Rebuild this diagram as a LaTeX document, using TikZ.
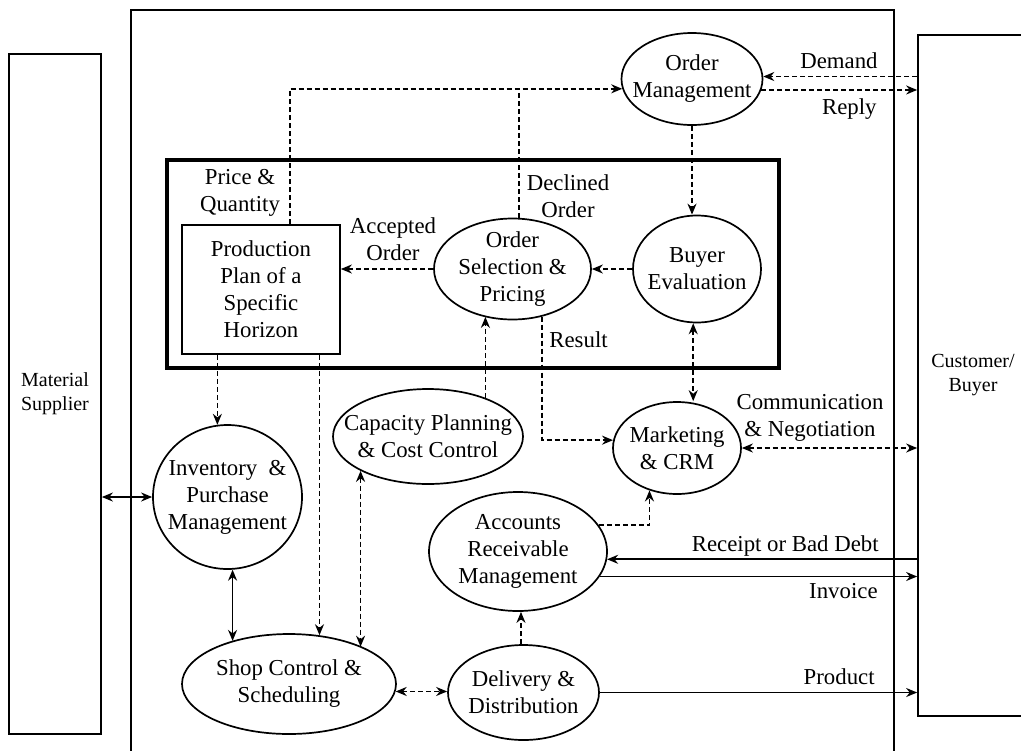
\documentclass[tikz,border=0pt]{standalone}
\usepackage{fontspec}
\setmainfont{Liberation Serif}
\usetikzlibrary{shapes.geometric,arrows.meta,calc}
\begin{document}
\begin{tikzpicture}[x=0.5pt,y=-0.5pt,
  >={Stealth[length=5.5pt,width=4.5pt]},
  lw/.style={line width=0.85pt},
  ell/.style={draw,ellipse,line width=0.85pt,inner sep=0pt},
  txt/.style={inner sep=0pt,align=center,font=\fontsize{11.4}{13.5}\selectfont},
  smalltxt/.style={inner sep=0pt,align=center,font=\fontsize{10}{12}\selectfont},
  dl/.style={line width=0.85pt,dash pattern=on 2.5pt off 1.5pt},
  da/.style={dl,->},
  db/.style={dl,<->},
  sa/.style={lw,->},
  sdb/.style={lw,<->}]
\useasboundingbox (0,0) rectangle (1021,750);

% frames
\draw[lw] (131,752) -- (131,10) -- (894,10) -- (894,752);
\draw[line width=1.7pt] (167,160) rectangle (779,368);

% side boxes
\node[draw,lw,smalltxt,minimum width=46pt,minimum height=340pt] (sup) at (55,394) {Material\\Supplier};
\node[draw,lw,smalltxt,minimum width=55pt,minimum height=340.5pt] (cust) at (973,375.5) {Customer/\\Buyer};

% production plan
\node[draw,lw,txt,minimum width=79pt,minimum height=64.5pt] (pp) at (261,289.5) {Production\\Plan of a\\Specific\\Horizon};

% ellipses
\node[ell,minimum width=70.5pt,minimum height=46pt] (om) at (692,79) {};
\node[txt] at (om) {Order\\Management};
\node[ell,minimum width=78.5pt,minimum height=50.5pt] (os) at (512.5,269) {};
\node[txt] at (os) {Order\\Selection \&\\Pricing};
\node[ell,minimum width=64pt,minimum height=53.5pt] (be) at (697,269) {};
\node[txt] at (be) {Buyer\\Evaluation};
\node[ell,minimum width=64pt,minimum height=46pt] (mk) at (677,448) {};
\node[txt] at (mk) {Marketing\\\& CRM};
\node[ell,minimum width=95pt,minimum height=47.5pt] (cp) at (428,436.5) {};
\node[txt] at (cp) {Capacity Planning\\\& Cost Control};
\node[ell,minimum width=74.5pt,minimum height=72pt] (inv) at (227.5,497) {};
\node[txt] at (inv) {Inventory~~\&\\Purchase\\Management};
\node[ell,minimum width=89pt,minimum height=59.5pt] (ar) at (518,551.5) {};
\node[txt] at (ar) {Accounts\\Receivable\\Management};
\node[ell,minimum width=107pt,minimum height=50pt] (sc) at (289,684) {};
\node[txt] at (sc) {Shop Control \&\\Scheduling};
\node[ell,minimum width=75.5pt,minimum height=47.5pt] (dd) at (523.5,692.5) {};
\node[txt] at (dd) {Delivery \&\\Distribution};

% labels
\node[txt] (lpq) at (240,193) {Price \&\\Quantity};
\node[txt] (ldo) at (568,196) {Declined\\Order};
\node[txt] (lao) at (393,239) {Accepted\\Order};
\node[txt,anchor=base east] (ldm) at (878,68) {Demand};
\node[txt,anchor=base east] (lrp) at (877,114) {Reply};
\node[txt,anchor=base west] (lrs) at (549,347) {Result};
\node[txt] (lcn) at (810,418) {Communication\\\& Negotiation};
\node[txt,anchor=base east] (lrb) at (879,551) {Receipt or Bad Debt};
\node[txt,anchor=base east] (liv) at (878,598) {Invoice};
\node[txt,anchor=base east] (lpr) at (875,684) {Product};

% connectors
\draw[da] ([xshift=14.5pt]pp.north) |- (om.188);
\draw[dl] (os.83) -- (os.83 |- om.188);
\draw[da] (os.west) -- (os.west -| pp.east);
\draw[da] (be.west) -- (os.east);
\draw[da] (om.south) -- (om.south |- be.north);
\draw[da] (cust.west |- om.2) -- (om.2);
\draw[da] (om.351) -- (om.351 -| cust.west);
\draw[da] (os.302) |- (mk.173);
\draw[db] (be.266) -- (be.266 |- mk.north);
\draw[db] (mk.east) -- (mk.east -| cust.west);
\draw[da] (cp.34) -- (cp.34 |- os.239);
\draw[db] (cp.207) -- (cp.207 |- sc.27);
\draw[da] (pp.south -| inv.98) -- (inv.98);
\draw[da] (pp.south -| sc.58) -- (sc.58);
\draw[sdb] (inv.274) -- (inv.274 |- sc.143);
\draw[sdb] (sup.east |- inv.west) -- (inv.west);
\draw[db] (sc.356) -- (sc.356 -| dd.west);
\draw[da] (dd.93) -- (dd.93 |- ar.south);
\draw[da] (ar.18) -| (mk.237);
\draw[sa] (cust.west |- ar.355) -- (ar.355);
\draw[sa] (ar.343) -- (ar.343 -| cust.west);
\draw[sa] (dd.east) -- (dd.east -| cust.west);
\end{tikzpicture}
\end{document}
